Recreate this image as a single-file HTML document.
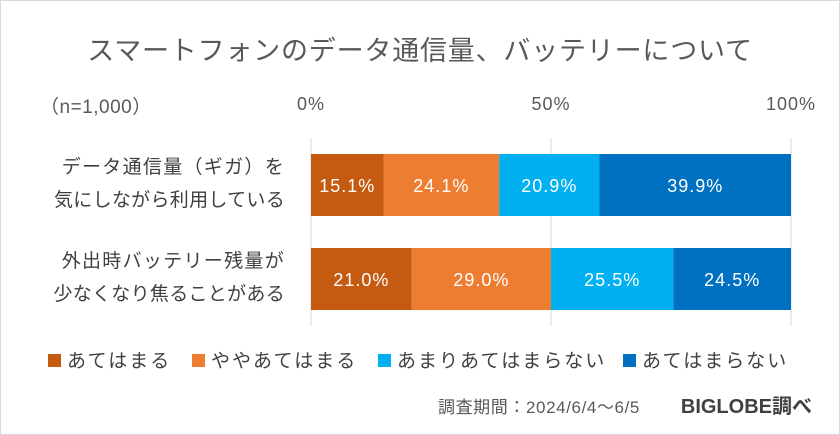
<!DOCTYPE html>
<html><head><meta charset="utf-8">
<style>
body{margin:0;background:#fff;}
svg{display:block;font-family:"Liberation Sans","Noto Sans CJK JP",sans-serif;}
</style></head>
<body>
<svg id="chart" width="840" height="435" viewBox="0 0 840 435">
<rect x="0.5" y="0.5" width="839" height="434" fill="#fff" stroke="#d9d9d9"/>
<text x="420" y="60" text-anchor="middle" font-size="27" letter-spacing="0.8" fill="#595959">スマートフォンのデータ通信量、バッテリーについて</text>
<text x="40" y="113" font-size="19" letter-spacing="0.5" fill="#595959">（n=1,000）</text>
<g id="grid"></g>
<g id="bars"></g>
<g id="cats"></g>
<g id="legend"></g>
<text x="640" y="413" text-anchor="end" font-size="17" letter-spacing="0.6" fill="#595959">調査期間：2024/6/4～6/5</text>
<text x="812" y="413" text-anchor="end" font-size="20" font-weight="bold" fill="#404040">BIGLOBE調べ</text>
</svg>
<script>
const categoriesLine1 = ["データ通信量（ギガ）を", "外出時バッテリー残量が"];
const categoriesLine2 = ["気にしながら利用している", "少なくなり焦ることがある"];
const seriesNames = ["あてはまる", "ややあてはまる", "あまりあてはまらない", "あてはまらない"];
const s1 = [15.1, 21.0];
const s2 = [24.1, 29.0];
const s3 = [20.9, 25.5];
const s4 = [39.9, 24.5];
const ticks = [0, 50, 100];
const tickLabels = ["0%", "50%", "100%"];

const colors = ["#C55A11", "#ED7D31", "#00B0F0", "#0070C0"];
const NS = "http://www.w3.org/2000/svg";
const x = v => 311 + v * 4.8;
const bandTop = i => 154 + i * 94;
const bandH = 62;
function mk(tag, attrs, parent, text){
  const e = document.createElementNS(NS, tag);
  for (const k in attrs) e.setAttribute(k, attrs[k]);
  if (text !== undefined) e.textContent = text;
  parent.appendChild(e);
  return e;
}
const grid = document.getElementById('grid');
ticks.forEach((t, i) => {
  const l = mk('line', {x1: x(t), x2: x(t), y1: 138, y2: 326, stroke: '#d9d9d9', 'stroke-width': 1}, grid);
  
  
  const tx = mk('text', {x: x(t), y: 110, 'text-anchor': 'middle', 'font-size': 18, 'letter-spacing': 1, fill: '#595959'}, grid, tickLabels[i]);
  
  
});
const series = [s1, s2, s3, s4];
const bars = document.getElementById('bars');
const cats = document.getElementById('cats');
categoriesLine1.forEach((c, i) => {
  let acc = 0;
  series.forEach((s, j) => {
    const v = s[i];
    const r = mk('rect', {x: x(acc), y: bandTop(i), width: x(acc + v) - x(acc), height: bandH, fill: colors[j]}, bars);
    
    
    const t = mk('text', {x: (x(acc) + x(acc + v)) / 2, y: bandTop(i) + bandH / 2 + 7, 'text-anchor': 'middle', 'font-size': 18, 'letter-spacing': 1, fill: '#fff'}, bars, v.toFixed(1) + '%');
    
    
    acc += v;
  });
  const a = mk('text', {x: 285, y: bandTop(i) + 19, 'text-anchor': 'end', 'font-size': 19, 'letter-spacing': 1.3, fill: '#404040'}, cats, c);
  
  
  const b = mk('text', {x: 285, y: bandTop(i) + 52, 'text-anchor': 'end', 'font-size': 19, 'letter-spacing': 0.3, fill: '#404040'}, cats, categoriesLine2[i]);
  
  
});
const legend = document.getElementById('legend');
const lx = [48, 192, 378, 623];
seriesNames.forEach((n, j) => {
  const r = mk('rect', {x: lx[j], y: 354, width: 13, height: 13, fill: colors[j]}, legend);
  
  
  const t = mk('text', {x: lx[j] + 19, y: 367, 'font-size': 19, 'letter-spacing': 2, fill: '#404040'}, legend, n);
  
  
});
</script>
</body></html>
